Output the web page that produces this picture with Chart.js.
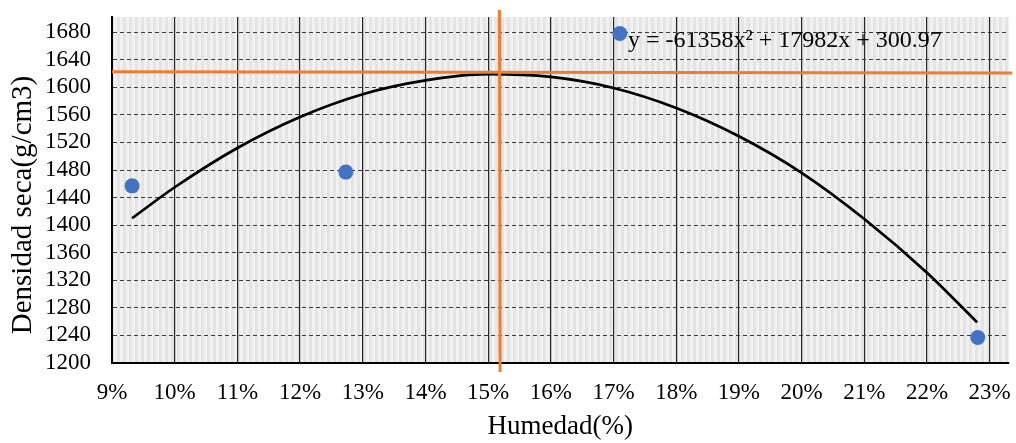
<!DOCTYPE html>
<html lang="es">
<head>
<meta charset="utf-8">
<title>Densidad seca vs Humedad</title>
<script src="https://cdn.jsdelivr.net/npm/chart.js@4.4.1/dist/chart.umd.min.js"></script>
<style>
  html, body { margin: 0; padding: 0; background: #fff; }
  #wrap { width: 1016px; height: 443px; position: relative; }
</style>
</head>
<body>
<div id="wrap"><canvas id="grafico"></canvas></div>
<script>
// puntos del ensayo
const humedad  = [0.0932, 0.1273, 0.1710, 0.2281];
const densidad = [1457, 1477, 1678, 1237];

// curva de tendencia polinómica (grado 2)
const curvaHumedad  = [0.0932, 0.10, 0.11, 0.12, 0.13, 0.14, 0.15, 0.16, 0.17, 0.18, 0.19, 0.20, 0.21, 0.22, 0.228];
const curvaDensidad = [1410, 1455, 1512, 1557, 1590, 1610, 1619, 1615, 1599, 1570, 1529, 1476, 1409, 1331, 1259];

// líneas de lectura: densidad máxima / humedad óptima
const lineaMaxX = [0.09, 0.2336];
const lineaMaxY = [1622.4, 1620.6];
const lineaOptX = [0.1518, 0.1519];
const lineaOptY = [1712, 1187];

// ticks de los ejes
const ticksX = [0.09, 0.10, 0.11, 0.12, 0.13, 0.14, 0.15, 0.16, 0.17, 0.18, 0.19, 0.20, 0.21, 0.22, 0.23];
const ticksY = [1200, 1240, 1280, 1320, 1360, 1400, 1440, 1480, 1520, 1560, 1600, 1640, 1680];

const ecuacion = 'y = -61358x² + 17982x + 300.97';
const tituloX = 'Humedad(%)';
const tituloY = 'Densidad seca(g/cm3)';

const FUENTE = '"Liberation Serif", "Times New Roman", serif';
const NARANJA = '#ED7D31';
const AZUL = '#4472C4';

const xy = (xs, ys) => xs.map((x, i) => ({ x, y: ys[i] }));

// fondo con trama de rayas verticales
const fondoRayado = {
  id: 'fondoRayado',
  beforeDraw(chart) {
    const { ctx, chartArea: a } = chart;
    ctx.save();
    ctx.fillStyle = '#e4e4e4';
    ctx.fillRect(a.left, a.top, a.right - a.left, a.bottom - a.top);
    ctx.fillStyle = '#f1f1f1';
    for (let x = a.left + 2; x < a.right; x += 6) {
      ctx.fillRect(x, a.top, Math.min(3, a.right - x), a.bottom - a.top);
    }
    ctx.restore();
  }
};

// ecuación de la tendencia y título vertical
const textos = {
  id: 'textos',
  afterDraw(chart) {
    const { ctx, chartArea: a } = chart;
    ctx.save();
    ctx.fillStyle = '#000';
    ctx.font = '24px ' + FUENTE;
    ctx.textAlign = 'left';
    ctx.textBaseline = 'alphabetic';
    ctx.fillText(ecuacion, a.left + 516, a.top + 30);

    ctx.font = '29px ' + FUENTE;
    ctx.translate(23, 205);
    ctx.rotate(-Math.PI / 2);
    ctx.textAlign = 'center';
    ctx.textBaseline = 'middle';
    ctx.fillText(tituloY, 0, 0);
    ctx.restore();
  }
};

new Chart(document.getElementById('grafico'), {
  type: 'scatter',
  data: {
    datasets: [
      {
        label: 'Max',
        type: 'line',
        data: xy(lineaMaxX, lineaMaxY),
        borderColor: NARANJA,
        borderWidth: 3,
        pointRadius: 0,
        clip: false,
        order: 0
      },
      {
        label: 'Opt',
        type: 'line',
        data: xy(lineaOptX, lineaOptY),
        borderColor: NARANJA,
        borderWidth: 3,
        pointRadius: 0,
        clip: false,
        order: 0
      },
      {
        label: 'Ensayo',
        data: xy(humedad, densidad),
        backgroundColor: AZUL,
        borderWidth: 0,
        pointRadius: 7.5,
        order: 1
      },
      {
        label: 'Tendencia',
        type: 'line',
        data: xy(curvaHumedad, curvaDensidad),
        borderColor: '#000',
        borderWidth: 2.7,
        pointRadius: 0,
        cubicInterpolationMode: 'monotone',
        order: 2
      }
    ]
  },
  options: {
    responsive: true,
    maintainAspectRatio: false,
    animation: false,
    layout: { padding: { top: 17, right: 6, left: 0, bottom: 0 } },
    plugins: { legend: { display: false }, tooltip: { enabled: false } },
    scales: {
      x: {
        type: 'linear',
        min: 0.09,
        max: 0.233,
        afterBuildTicks: s => { s.ticks = ticksX.map(v => ({ value: v })); },
        afterFit: s => { s.height = 80; s.paddingLeft = 0; s.paddingRight = 0; },
        ticks: {
          color: '#000',
          font: { family: FUENTE, size: 23 },
          padding: 16,
          autoSkip: false,
          maxRotation: 0,
          callback: v => Math.round(v * 100) + '%'
        },
        grid: { color: '#262626', lineWidth: 1.2, drawTicks: false },
        border: { display: true, color: '#000', width: 2 },
        title: {
          display: true,
          text: tituloX,
          color: '#000',
          font: { family: FUENTE, size: 27 },
          padding: { top: 0, bottom: 0 }
        }
      },
      y: {
        min: 1200,
        max: 1702,
        afterBuildTicks: s => { s.ticks = ticksY.map(v => ({ value: v })); },
        afterFit: s => { s.width = 112; s.paddingTop = 0; s.paddingBottom = 0; },
        ticks: {
          color: '#000',
          font: { family: FUENTE, size: 23 },
          padding: 21,
          autoSkip: false,
          callback: v => String(v)
        },
        grid: { color: '#3a3a3a', lineWidth: 1, drawTicks: false },
        border: { display: true, color: '#000', width: 2, dash: [4, 3] }
      }
    }
  },
  plugins: [fondoRayado, textos]
});
</script>
</body>
</html>
